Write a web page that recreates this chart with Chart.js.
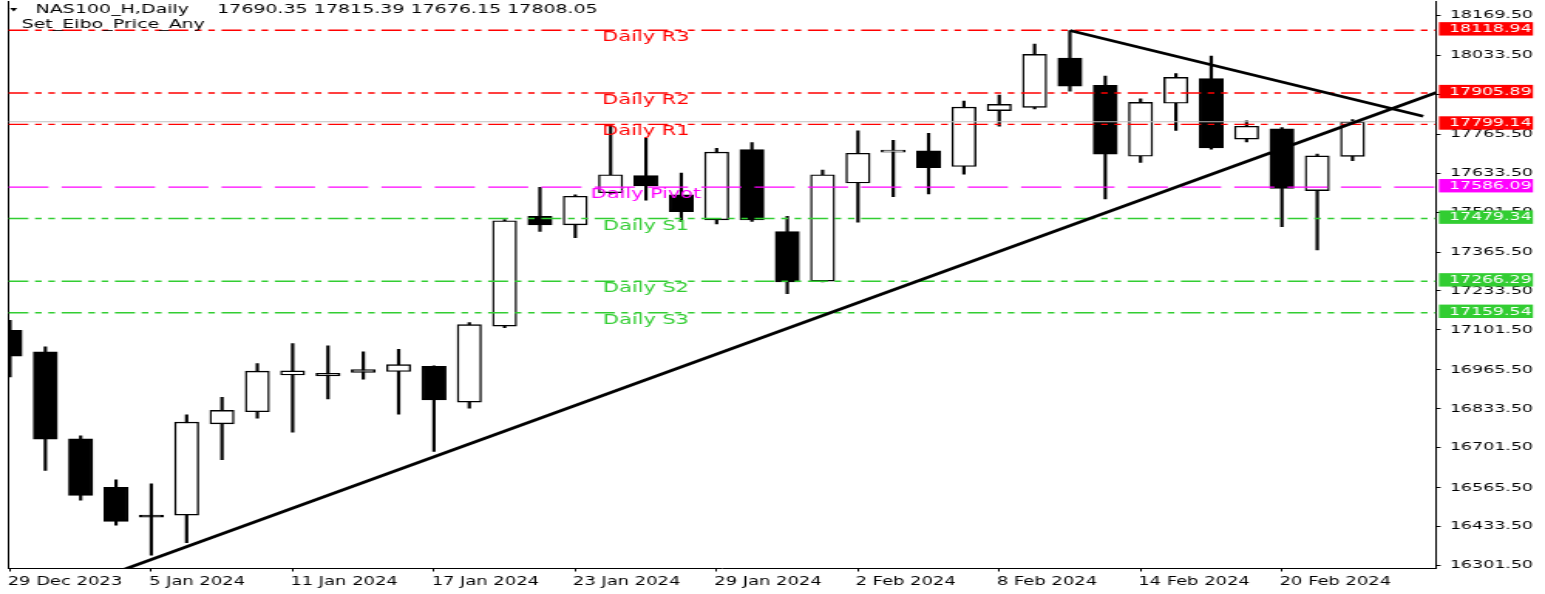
<!DOCTYPE html>
<html>
<head>
<meta charset="utf-8">
<script src="https://cdn.jsdelivr.net/npm/chart.js@4/dist/chart.umd.min.js"></script>
<style>
html,body{margin:0;padding:0;background:#fff;overflow:hidden;width:1545px;height:594px;}
#wrap{position:absolute;left:0;top:0;width:1000px;height:594px;transform:scaleX(1.545);transform-origin:0 0;}
</style>
</head>
<body>
<div id="wrap"><canvas id="c"></canvas></div>
<script>
// ---------- data ----------
const symbolTitle = 'NAS100_H,Daily';
const lastQuote = '17690.35 17815.39 17676.15 17808.05';
const indicatorName = 'Set_Eibo_Price_Any';

const dates = ['29 Dec 2023','2 Jan 2024','3 Jan 2024','4 Jan 2024','5 Jan 2024','8 Jan 2024','9 Jan 2024','10 Jan 2024','11 Jan 2024','12 Jan 2024',
  '15 Jan 2024','16 Jan 2024','17 Jan 2024','18 Jan 2024','19 Jan 2024','22 Jan 2024','23 Jan 2024','24 Jan 2024','25 Jan 2024','26 Jan 2024',
  '29 Jan 2024','30 Jan 2024','31 Jan 2024','1 Feb 2024','2 Feb 2024','5 Feb 2024','6 Feb 2024','7 Feb 2024','8 Feb 2024','9 Feb 2024',
  '12 Feb 2024','13 Feb 2024','14 Feb 2024','15 Feb 2024','16 Feb 2024','19 Feb 2024','20 Feb 2024','21 Feb 2024','22 Feb 2024'];

const opens  = [17100,17027,16731,16566,16468,16472,16782,16823,16948,16945,16957,16960,16977,16856,17114,17487,17458,17567,17625,17560,
  17475,17714,17435,17267,17600,17705,17709,17656,17846,17857,18024,17932,17691,17871,17955,17749,17784,17574,17690.35];
const highs  = [17134,17044,16741,16592,16578,16813,16872,16987,17055,17047,17027,17035,16979,17126,17476,17585,17560,17797,17752,17634,
  17718,17737,17487,17644,17777,17745,17769,17878,17899,18072,18118,17963,17886,17972,18031,17811,17788,17698,17815.39];
const lows   = [16941,16624,16523,16438,16336,16378,16660,16801,16754,16867,16934,16815,16688,16835,17109,17436,17414,17562,17542,17470,
  17461,17470,17224,17264,17467,17554,17563,17630,17793,17852,17912,17546,17670,17779,17715,17740,17452,17373,17676.15];
const closes = [17012,16730,16539,16451,16465,16788,16828,16961,16962,16954,16966,16983,16863,17119,17472,17458,17555,17628,17590,17503,
  17705,17475,17264,17628,17701,17708,17652,17858,17867,18037,17929,17698,17874,17959,17719,17793,17582,17692,17808.05];

const xTickIndex = [0,4,8,12,16,20,24,28,32,36];
const yTickValues = [16301.5,16433.5,16565.5,16701.5,16833.5,16965.5,17101.5,17233.5,17365.5,17501.5,17633.5,17765.5,17901.5,18033.5,18169.5];

const levelNames  = ['Daily R3','Daily R2','Daily R1','Daily Pivot','Daily S1','Daily S2','Daily S3'];
const levelValues = [18118.94,17905.89,17799.14,17586.09,17479.34,17266.29,17159.54];
const levelColors = ['#ff0000','#ff0000','#ff0000','#ff00ff','#32cd32','#32cd32','#32cd32'];
const levelLabelBar = 18;

// trend lines: [bar index, price] anchors
const trendUp   = [[3.0,16277.6],[40.5,17913]];
const trendDown = [[30,18118],[40.0,17827]];

// ---------- view ----------
const X_MIN = -0.048, X_MAX = 40.36;
const Y_MIN = 16290.66, Y_MAX = 18216.94;
const FONT = 'DejaVu Sans';

const rrDash = [13,4.3,4.3,4.3,4.3,4.3];
const pivotDash = [26,8.5];

const datasets = [];
datasets.push({
  type:'bar', label:'wicks', order:5, grouped:false,
  data: dates.map((d,i)=>({x:i, y:[lows[i], highs[i]]})),
  backgroundColor:'#000', borderWidth:0, barThickness:1.5
});
datasets.push({
  type:'bar', label:'bodies', order:4, grouped:false,
  data: dates.map((d,i)=>({x:i, y:[opens[i], closes[i]]})),
  backgroundColor: dates.map((d,i)=> closes[i] >= opens[i] ? '#ffffff' : '#000000'),
  borderColor:'#000', borderWidth:1.4, borderSkipped:false, barThickness:15.5, minBarLength:2
});
levelValues.forEach((v,k)=>{
  datasets.push({
    type:'line', label:levelNames[k], order:2, clip:0,
    data:[{x:X_MIN,y:v},{x:X_MAX,y:v}],
    borderColor:levelColors[k], borderWidth:1.4,
    borderDash: k===3 ? pivotDash : rrDash,
    pointRadius:0, tension:0
  });
});
datasets.push({
  type:'line', label:'bid', order:3, clip:0,
  data:[{x:X_MIN,y:closes[closes.length-1]},{x:X_MAX,y:closes[closes.length-1]}],
  borderColor:'#c0c0c0', borderWidth:1, pointRadius:0
});
[trendUp, trendDown].forEach((t,k)=>{
  datasets.push({
    type:'line', label:'trend'+k, order:0, clip:0,
    data:t.map(p=>({x:p[0], y:p[1]})),
    borderColor:'#000', borderWidth:2.8, pointRadius:0
  });
});

const zeroPad = s => { s.paddingTop = 0; s.paddingBottom = 0; s.paddingLeft = 0; s.paddingRight = 0; };

const overlay = {
  id:'overlay',
  afterDraw(chart){
    const ctx = chart.ctx, xs = chart.scales.x, ys = chart.scales.y;
    ctx.save();
    // level labels
    ctx.font = '13.5px "' + FONT + '"';
    ctx.textAlign = 'center';
    ctx.textBaseline = 'middle';
    levelValues.forEach((v,k)=>{
      ctx.fillStyle = levelColors[k];
      ctx.fillText(levelNames[k], xs.getPixelForValue(levelLabelBar), ys.getPixelForValue(v) + 7.5);
    });
    // right axis badges
    ctx.font = '11.2px "' + FONT + '"';
    ctx.textAlign = 'left';
    levelValues.forEach((v,k)=>{
      const y = ys.getPixelForValue(v) - 1.5;
      ctx.fillStyle = levelColors[k];
      ctx.fillRect(ys.left + 2, y - 6.6, 60.8, 13.4);
      ctx.fillStyle = '#ffffff';
      ctx.fillText(v.toFixed(2), ys.left + 8.5, y + 0.5);
    });
    // title
    ctx.fillStyle = '#000';
    ctx.font = '12.3px "' + FONT + '"';
    ctx.textBaseline = 'middle';
    ctx.fillText(symbolTitle, 23, 10);
    ctx.fillText(lastQuote, 140.5, 10);
    ctx.fillText(indicatorName, 14, 24.5);
    ctx.beginPath();
    ctx.moveTo(6.5, 8); ctx.lineTo(11.2, 8); ctx.lineTo(8.85, 11.5); ctx.closePath();
    ctx.fill();
    ctx.restore();
  }
};

new Chart(document.getElementById('c'), {
  type:'bar',
  data:{ datasets },
  options:{
    responsive:true, maintainAspectRatio:false, animation:false, events:[],
    layout:{ padding:{ left:5.37, right:0, top:0, bottom:0 } },
    plugins:{ legend:{display:false}, tooltip:{enabled:false}, title:{display:false} },
    scales:{
      x:{
        type:'linear', position:'bottom', min:X_MIN, max:X_MAX, offset:false,
        afterBuildTicks: s => { s.ticks = xTickIndex.map(v=>({value:v})); },
        afterFit: s => { s.height = 25.5; zeroPad(s); },
        grid:{ display:true, drawOnChartArea:false, drawTicks:true, tickLength:3, color:'#000', lineWidth:1, offset:false },
        border:{ display:true, color:'#000', width:1 },
        ticks:{ autoSkip:false, maxRotation:0, minRotation:0, align:'start', labelOffset:-1.5, padding:3.5,
          color:'#000', font:{ family:FONT, size:11.6 }, callback: v => dates[v] }
      },
      y:{
        type:'linear', position:'right', min:Y_MIN, max:Y_MAX,
        afterBuildTicks: s => { s.ticks = yTickValues.map(v=>({value:v})); },
        afterFit: s => { s.width = 70.6; zeroPad(s); },
        grid:{ display:true, drawOnChartArea:false, drawTicks:true, tickLength:3, color:'#000', lineWidth:1 },
        border:{ display:true, color:'#000', width:1 },
        ticks:{ padding:6, color:'#000', font:{ family:FONT, size:11.3 }, callback: v => Number(v).toFixed(2) }
      },
      yL:{
        type:'linear', position:'left', min:Y_MIN, max:Y_MAX,
        afterFit: s => { s.width = 0; zeroPad(s); },
        grid:{ display:false }, ticks:{ display:false },
        border:{ display:true, color:'#000', width:1 }
      }
    }
  },
  plugins:[overlay]
});
</script>
</body>
</html>
